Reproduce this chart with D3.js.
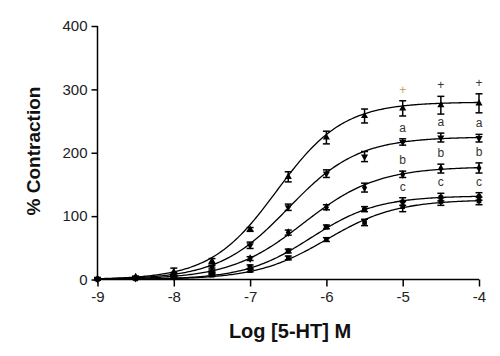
<!DOCTYPE html>
<html>
<head>
<meta charset="utf-8">
<script src="https://cdn.jsdelivr.net/npm/d3@7"></script>
<style>
  html, body { margin: 0; padding: 0; background: #fff; }
  svg { display: block; font-family: "Liberation Sans", Arial, sans-serif; }
</style>
</head>
<body>
<svg id="chart" width="500" height="356"></svg>
<script>
// ---- data ----
const logConc = [-9, -8.5, -8, -7.5, -7, -6.5, -6, -5.5, -5, -4.5, -4];
const s1Mean = [1, 4, 12, 29, 79, 162, 224, 258, 270, 275, 278];
const s1Err  = [1, 1, 6, 4, 3, 8, 10, 11, 12, 14, 15];
const s2Mean = [1, 3, 8, 20, 54, 114, 167, 194, 217, 224, 223];
const s2Err  = [1, 1, 3, 2, 5, 5, 6, 8, 5, 7, 6];
const s3Mean = [0.5, 2, 5, 13, 33, 74, 114, 145, 166, 175, 176];
const s3Err  = [1, 1, 2, 2, 3, 4, 4, 7, 5, 7, 8];
const s4Mean = [0.5, 2, 4, 10, 20, 45, 83, 111, 123, 130, 131];
const s4Err  = [1, 1, 2, 2, 3, 3, 3, 4, 6, 6, 6];
const s5Mean = [0.5, 1, 3, 7, 14, 34, 63, 90, 115, 123, 124];
const s5Err  = [1, 1, 2, 2, 2, 3, 3, 5, 8, 6, 6];
// fitted sigmoid parameters per series (top, logEC50, hill slope)
const fitTop   = [280, 225, 178, 132, 126];
const fitEC50  = [-6.65, -6.5, -6.3, -6.2, -6.0];
const fitHill  = [1.0, 0.95, 0.9, 1.0, 0.95];
const markerShapes = ["triangle", "triangleDown", "diamond", "circle", "square"];
// significance annotations
const annX     = [-5, -4.5, -4];
const annText  = ["+", "a", "b", "c"];
const yTicks = [0, 100, 200, 300, 400];
const xTicks = [-9, -8, -7, -6, -5, -4];

const series = [
  {m: s1Mean, e: s1Err}, {m: s2Mean, e: s2Err}, {m: s3Mean, e: s3Err},
  {m: s4Mean, e: s4Err}, {m: s5Mean, e: s5Err}
];

const svg = d3.select("#chart");
const x = d3.scaleLinear().domain([-9, -4]).range([97.5, 479]);
const y = d3.scaleLinear().domain([0, 400]).range([279.5, 26]);

// axes
const yAxis = svg.append("g").attr("transform", `translate(${x(-9)},0)`)
  .call(d3.axisLeft(y).tickValues(yTicks).tickSize(6).tickPadding(4));
const xAxis = svg.append("g").attr("transform", `translate(0,${y(0)})`)
  .call(d3.axisBottom(x).tickValues(xTicks).tickSize(7).tickPadding(5)
    .tickFormat(d => d3.format("d")(d).replace("−", "-")));
[yAxis, xAxis].forEach(g => {
  g.select(".domain").attr("stroke", "#000").attr("stroke-width", 1.5);
  g.selectAll(".tick line").attr("stroke", "#000").attr("stroke-width", 1.5);
  g.selectAll(".tick text").attr("fill", "#222").attr("font-size", 15)
    .attr("font-family", "'Liberation Sans', Arial, sans-serif");
});
yAxis.select(".domain").attr("d", `M0,${y(400)}V${y(0)}`);
xAxis.select(".domain").attr("d", `M${x(-9)},0H${x(-4)}`);

// titles
svg.append("text").attr("x", 290).attr("y", 338).attr("text-anchor", "middle")
  .attr("font-size", 20).attr("font-weight", "bold").attr("fill", "#111")
  .text("Log [5-HT] M");
svg.append("text").attr("transform", "translate(40,151) rotate(-90)")
  .attr("text-anchor", "middle").attr("font-size", 19).attr("font-weight", "bold")
  .attr("fill", "#111").text("% Contraction");

// fitted curves
const fineX = d3.range(-9, -3.999, 0.02);
const line = d3.line().x(d => x(d[0])).y(d => y(d[1]));
series.forEach((s, i) => {
  const pts = fineX.map(v => [v, fitTop[i] / (1 + Math.pow(10, (fitEC50[i] - v) * fitHill[i]))]);
  svg.append("path").attr("d", line(pts)).attr("fill", "none")
    .attr("stroke", "#000").attr("stroke-width", 1.3);
});

// error bars and markers
const symMap = {
  triangle: d3.symbolTriangle, triangleDown: d3.symbolTriangle,
  diamond: d3.symbolDiamond, circle: d3.symbolCircle, square: d3.symbolSquare
};
series.forEach((s, i) => {
  const g = svg.append("g");
  logConc.forEach((c, j) => {
    const cx = x(c), m = s.m[j], e = s.e[j];
    g.append("line").attr("x1", cx).attr("x2", cx).attr("y1", y(m - e)).attr("y2", y(m + e))
      .attr("stroke", "#000").attr("stroke-width", 1.5);
    [m - e, m + e].forEach(v => g.append("line").attr("x1", cx - 3.5).attr("x2", cx + 3.5)
      .attr("y1", y(v)).attr("y2", y(v)).attr("stroke", "#000").attr("stroke-width", 1.5));
    const shape = markerShapes[i];
    g.append("path").attr("d", d3.symbol().type(symMap[shape]).size(22)())
      .attr("transform", `translate(${cx},${y(m)})` + (shape === "triangleDown" ? " rotate(180)" : ""))
      .attr("fill", "#000");
  });
});

// annotations (+, a, b, c) above the top four curves at high concentrations
const annSeries = [s1Mean, s2Mean, s3Mean, s4Mean];
const annErr = [s1Err, s2Err, s3Err, s4Err];
annText.forEach((t, k) => {
  annX.forEach((c, j) => {
    const idx = logConc.indexOf(c);
    const v = annSeries[k][idx] + annErr[k][idx];
    svg.append("text").attr("x", x(c)).attr("y", y(v) - 7)
      .attr("text-anchor", "middle").attr("font-size", 12)
      .attr("fill", (k === 0 && j === 0) ? "#c8a060" : "#333")
      .text(t);
  });
});
</script>
</body>
</html>
